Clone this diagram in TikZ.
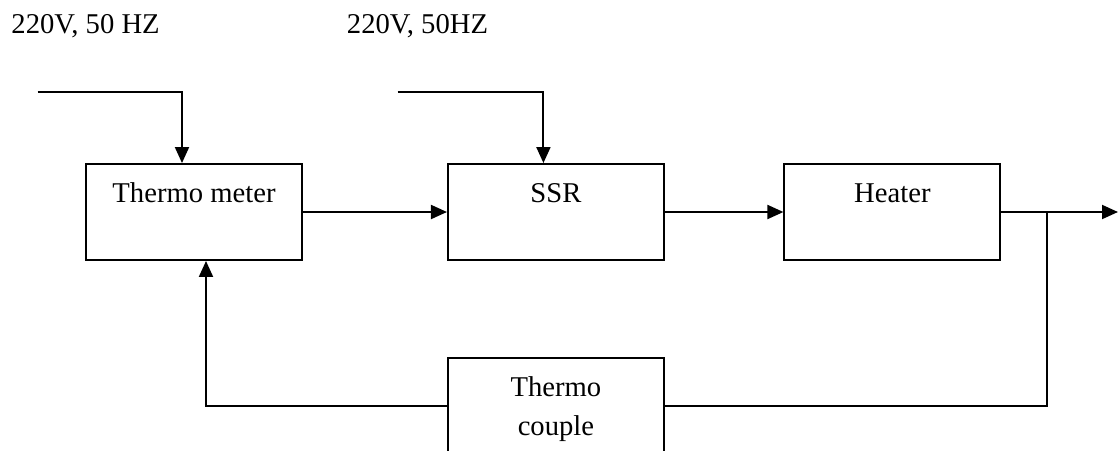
\documentclass[tikz,border=0pt]{standalone}
\usepackage{fontspec}
\setmainfont{Liberation Serif}
\usetikzlibrary{arrows.meta,positioning}
\begin{document}
\begin{tikzpicture}[>={Triangle[length=0.32cm,width=0.28cm]},line width=1.1pt,node distance=1.92cm]
  \tikzstyle{box}=[draw,line width=1.1pt,minimum width=4.32cm,inner sep=0pt,text height=0.77cm,text depth=1.15cm,align=center,font=\fontsize{16.3}{22.2}\selectfont]
  \tikzstyle{supply}=[font=\fontsize{16.3}{19.5}\selectfont,inner sep=0pt,anchor=base west]
  \useasboundingbox (0,0) rectangle (22.36,-9);
  \node[supply] (mains1) at (0.21,-0.66) {220V, 50 HZ};
  \node[supply] (mains2) at (6.92,-0.66) {220V, 50HZ};
  \node[box] (meter) at (3.88,-4.24) {Thermo meter};
  \node[box,right=2.88cm of meter] (ssr) {SSR};
  \node[box,right=2.37cm of ssr] (heater) {Heater};
  % two lines: baseline of the box is the last one
  \node[box,text height=1.55cm,text depth=0.37cm,below=1.92cm of ssr] (couple) {Thermo\\couple};
  \coordinate (in1) at (0.75,-1.84);
  \coordinate (in2) at (7.95,-1.84);
  \coordinate (tap) at (20.94,-4.24);
  \coordinate (out) at (22.36,-4.24);
  \draw[->] (in1) -| ([xshift=-0.24cm]meter.north);
  \draw[->] (in2) -| ([xshift=-0.25cm]ssr.north);
  \draw[->] (meter) -- (ssr);
  \draw[->] (ssr) -- (heater);
  \draw[->] (heater) -- (out);
  \draw (couple.east) -| (tap);
  \draw[->] (couple.west) -| ([xshift=0.24cm]meter.south);
\end{tikzpicture}
\end{document}
